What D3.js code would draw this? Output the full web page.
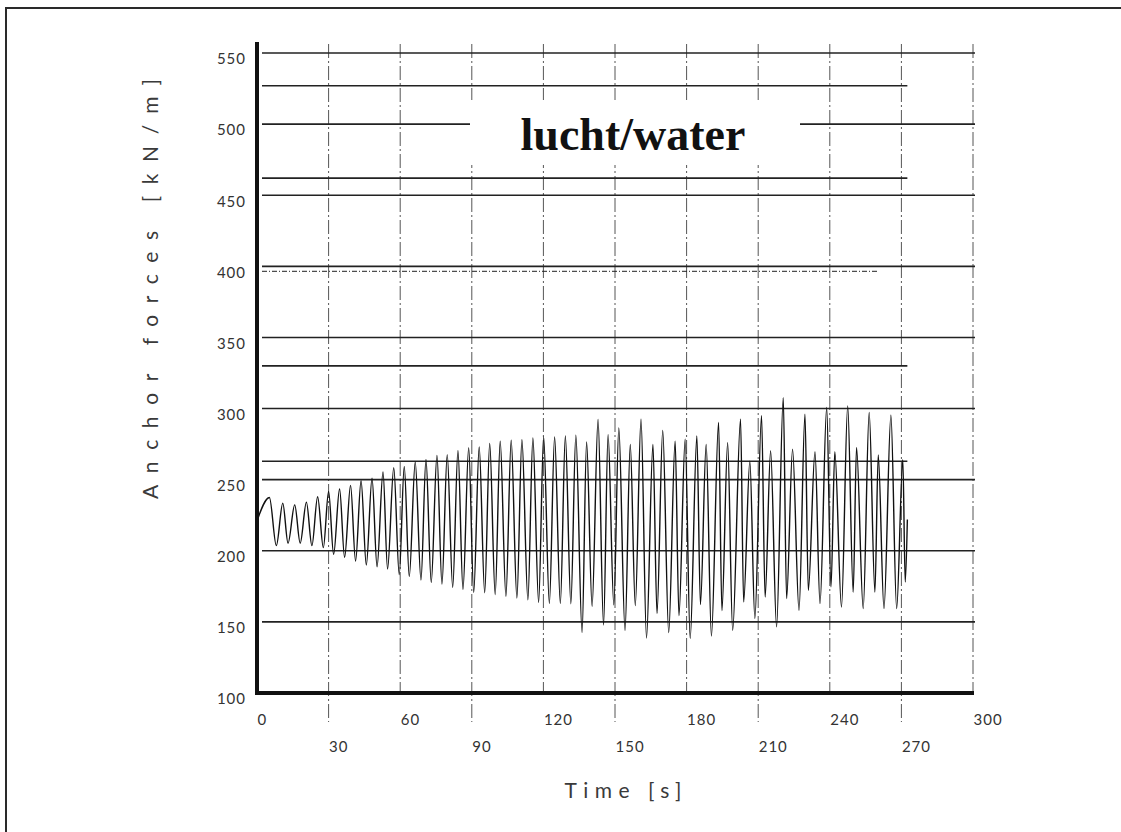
<!DOCTYPE html>
<html>
<head>
<meta charset="utf-8">
<script src="https://cdn.jsdelivr.net/npm/d3@7"></script>
<style>
  body { margin: 0; background: #fff; }
  svg { display: block; }
</style>
</head>
<body>
<div id="chart"></div>
<script>
// values
const yTicks = [100, 150, 200, 250, 300, 350, 400, 450, 500, 550]
const xTicks = [0, 30, 60, 90, 120, 150, 180, 210, 240, 270, 300]
const shortLevels = [527, 462, 330, 263]
const dottedLevels = [396.5]
const title = 'lucht/water'
const xLabel = 'Time [s]'
const yLabel = 'Anchor forces [kN/m]'

// [time s, anchor force kN/m] at each turning point of the record
const signal = [
  [0, 221], [5.2, 237.5], [8.1, 203.6], [10.8, 233.5], [13.0, 205.3], [15.8, 232.3],
  [18.1, 205.3], [20.7, 234.2], [23.0, 203.6], [25.4, 238], [27.8, 202.2], [30.0, 241.7],
  [32.1, 197.5], [34.6, 243.4], [36.7, 195.4], [39.2, 246], [41.3, 192.8], [43.6, 249.2],
  [45.8, 190], [48.2, 251], [50.3, 188.8], [52.8, 255.4], [54.7, 187.2], [57.3, 258.4],
  [59.6, 183.2], [61.7, 259.3], [63.8, 181.8], [66.3, 262.4], [68.7, 179.4], [70.8, 264.3],
  [73.0, 177.8], [75.4, 267.1], [77.5, 176.6], [79.7, 267.6], [82.0, 174.3], [84.2, 270.6],
  [86.3, 172.9], [88.7, 272.5], [90.8, 170.8], [93.1, 273], [95.4, 170.5], [97.5, 275.5],
  [99.8, 169.3], [101.9, 277], [104.3, 168], [106.5, 277.7], [108.9, 166.8], [111.0, 278.1],
  [113.5, 165.5], [115.6, 279.3], [118.0, 163.8], [120.1, 280], [122.5, 163], [124.7, 280],
  [127.1, 163], [129.2, 280.7], [131.5, 162.8], [133.6, 281.3], [136.2, 142.5], [138.1, 276.5],
  [140.4, 161], [142.9, 292.3], [145.2, 147.8], [147.1, 281.7], [149.5, 162], [151.6, 286.4],
  [154.2, 144], [156.4, 274.7], [158.5, 161.5], [160.9, 292.5], [163.2, 138.7], [165.9, 274.7],
  [167.6, 156], [170.0, 284.6], [172.5, 142.5], [175.2, 277], [176.8, 154.5], [179.4, 278.5],
  [181.5, 138.5], [184.3, 280.7], [185.8, 162.2], [188.2, 274.7], [190.4, 140], [193.4, 290.2],
  [194.8, 158], [197.2, 276], [199.3, 144], [202.6, 292.5], [203.9, 164], [206.5, 263],
  [208.6, 152.4], [211.4, 295], [212.9, 167.5], [215.2, 270.3], [217.7, 146.5], [220.5, 307.7],
  [221.9, 166.4], [224.4, 271.5], [227.1, 158.2], [229.6, 296], [231.0, 172.2], [233.8, 269.6],
  [235.9, 162.9], [238.7, 300.7], [240.5, 174.6], [242.1, 269.6], [244.9, 160.5], [247.5, 301.9],
  [249.8, 171], [251.2, 272.7], [254.0, 159.4], [256.5, 297.2], [258.9, 171], [260.3, 267.3],
  [262.7, 159.4], [265.6, 295.3], [268.0, 159.4], [270.6, 264], [271.6, 178], [272.5, 222]
]

const width = 1121
const height = 832
const labelFont = "Lato, 'DejaVu Sans', sans-serif"
const x = d3.scaleLinear().domain([0, 300]).range([257, 973])
const y = d3.scaleLinear().domain([100, 550]).range([693, 53])

const svg = d3.select('#chart')
  .append('svg')
  .attr('width', width)
  .attr('height', height)

svg.append('rect').attr('width', width).attr('height', height).attr('fill', '#fff')

// scan frame
svg.append('path')
  .attr('d', `M6,${height}V8H${width}`)
  .attr('fill', 'none')
  .attr('stroke', '#2a2a2a')
  .attr('stroke-width', 2)

// vertical dash-dot grid, odd ticks run down to their lower label
svg.append('g')
  .selectAll('line')
  .data(xTicks.slice(1))
  .join('line')
  .attr('x1', d => x(d))
  .attr('x2', d => x(d))
  .attr('y1', 44)
  .attr('y2', (d, i) => (i % 2 === 0 ? 722 : y(100)))
  .attr('stroke', '#555')
  .attr('stroke-width', 1)
  .attr('stroke-dasharray', '14,3,2,3')

// horizontal grid
const hgrid = svg.append('g').attr('stroke', '#222').attr('stroke-width', 1.6)
hgrid.selectAll('line.major')
  .data(yTicks.slice(1))
  .join('line')
  .attr('class', 'major')
  .attr('x1', 262)
  .attr('x2', x(300) + 2)
  .attr('y1', d => y(d))
  .attr('y2', d => y(d))
hgrid.selectAll('line.short')
  .data(shortLevels)
  .join('line')
  .attr('class', 'short')
  .attr('x1', 262)
  .attr('x2', x(272.5))
  .attr('y1', d => y(d))
  .attr('y2', d => y(d))
hgrid.selectAll('line.dotted')
  .data(dottedLevels)
  .join('line')
  .attr('class', 'dotted')
  .attr('x1', 262)
  .attr('x2', x(260))
  .attr('y1', d => y(d))
  .attr('y2', d => y(d))
  .attr('stroke-width', 1)
  .attr('stroke-dasharray', '5,2,1,2')

// title on a white patch that breaks the 500 line
svg.append('rect')
  .attr('x', 470).attr('y', 100)
  .attr('width', 330).attr('height', 65)
  .attr('fill', '#fff')
svg.append('text')
  .attr('x', 633)
  .attr('y', 150)
  .attr('text-anchor', 'middle')
  .attr('font-family', "'Liberation Serif', 'Times New Roman', serif")
  .attr('font-weight', 'bold')
  .attr('font-size', 46)
  .attr('fill', '#111')
  .text(title)

// signal
const line = d3.line()
  .x(d => x(d[0]))
  .y(d => y(d[1]))
  .curve(d3.curveMonotoneX)
svg.append('path')
  .datum(signal)
  .attr('d', line)
  .attr('fill', 'none')
  .attr('stroke', '#111')
  .attr('stroke-width', 1.4)

// heavy axis lines
svg.append('line')
  .attr('x1', x(0)).attr('x2', x(0))
  .attr('y1', 42).attr('y2', y(100) + 2)
  .attr('stroke', '#111').attr('stroke-width', 4)
svg.append('line')
  .attr('x1', x(0) - 2).attr('x2', x(300) + 1)
  .attr('y1', y(100)).attr('y2', y(100))
  .attr('stroke', '#111').attr('stroke-width', 4)

// tick labels
const yAxis = d3.axisLeft(y).tickValues(yTicks).tickSize(0).tickPadding(0)
svg.append('g')
  .attr('transform', 'translate(246,6)')
  .call(yAxis)
  .call(g => g.select('.domain').remove())
  .selectAll('text')
  .attr('font-family', labelFont)
  .attr('font-size', 15)
  .attr('letter-spacing', 1)
  .attr('fill', '#333')

const xAxis = d3.axisBottom(x).tickValues(xTicks).tickSize(0).tickPadding(0)
svg.append('g')
  .call(xAxis)
  .call(g => g.select('.domain').remove())
  .selectAll('text')
  .attr('text-anchor', 'start')
  .attr('dy', '0.35em')
  .attr('y', (d, i) => (i % 2 === 0 ? 720 : 747))
  .attr('font-family', labelFont)
  .attr('font-size', 15)
  .attr('letter-spacing', 1)
  .attr('fill', '#333')

// axis titles
svg.append('text')
  .attr('transform', 'translate(158,289) rotate(-90)')
  .attr('text-anchor', 'middle')
  .attr('textLength', 420)
  .attr('lengthAdjust', 'spacing')
  .attr('font-family', labelFont)
  .attr('font-size', 21)
  .attr('fill', '#3a3a3a')
  .text(yLabel)

svg.append('text')
  .attr('x', 623)
  .attr('y', 798)
  .attr('text-anchor', 'middle')
  .attr('textLength', 117)
  .attr('lengthAdjust', 'spacing')
  .attr('font-family', labelFont)
  .attr('font-size', 21)
  .attr('fill', '#3a3a3a')
  .text(xLabel)
</script>
</body>
</html>
